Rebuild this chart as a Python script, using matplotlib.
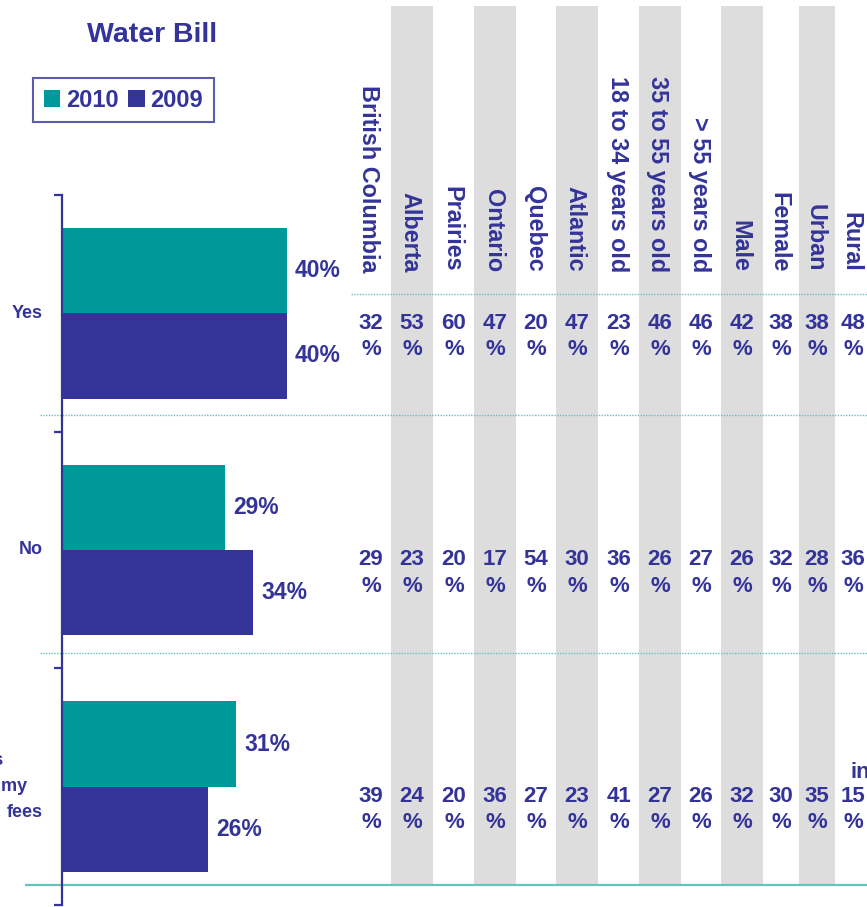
import matplotlib
matplotlib.use("Agg")
import matplotlib.pyplot as plt
import matplotlib.transforms as mtransforms
import numpy as np

plt.rcParams['font.family'] = ['Liberation Sans', 'DejaVu Sans']

# data
years = ["2010", "2009"]
categories = ["Yes", "No", "It's included in my fees"]
share_2010 = [40, 29, 31]
share_2009 = [40, 34, 26]

groups = ["British Columbia", "Alberta", "Prairies", "Ontario", "Quebec", "Atlantic",
          "18 to 34 years old", "35 to 55 years old", "> 55 years old",
          "Male", "Female", "Urban", "Rural"]
yes_by_group = [32, 53, 60, 47, 20, 47, 23, 46, 46, 42, 38, 38, 48]
no_by_group = [29, 23, 20, 17, 54, 30, 36, 26, 27, 26, 32, 28, 36]
incl_by_group = [39, 24, 20, 36, 27, 23, 41, 27, 26, 32, 30, 35, 15]
table_rows = [yes_by_group, no_by_group, incl_by_group]

# colours
teal = "#009999"
navy = "#333399"
band_gray = "#dddddd"
line_teal = "#66c2bd"

# layout (pixels on a 867x907 canvas)
W, H = 867, 907
col_x = [371, 412, 454, 495, 536, 577, 619, 660, 701, 742, 781, 817, 853]
col_w = [42, 42, 42, 42, 42, 42, 42, 42, 42, 42, 42, 36, 42]

fig = plt.figure(figsize=(W / 100, H / 100), dpi=100)

# background layer in pixel coordinates
bg = fig.add_axes([0, 0, 1, 1])
bg.set_xlim(0, W)
bg.set_ylim(H, 0)
bg.axis('off')

# gray bands on every second column
for i in range(1, len(groups), 2):
    bg.bar(col_x[i], 879, bottom=6, width=col_w[i], color=band_gray, zorder=0)

# separators
bg.hlines(294, 351, W, colors=line_teal, linestyles=(0, (1, 1)), lw=1, zorder=1)
bg.hlines([415, 653], 40, W, colors=line_teal, linestyles=(0, (1, 1)), lw=1, zorder=1)
bg.hlines(885, 25, W, colors=line_teal, lw=1.6, zorder=1)

# title
bg.text(152, 35, "Water Bill", ha='center', va='center', fontsize=20.5,
        fontweight='bold', color=navy)

# column headers (rotated, reading downward)
for x, name in zip(col_x, groups):
    bg.text(x - 2, 272, name, rotation=270, ha='center', va='bottom',
            fontsize=16.8, fontweight='bold', color=navy)

# bar chart
ax = fig.add_axes([62 / W, 2 / H, (354 - 62) / W, 710 / H])
ax.patch.set_visible(False)
y = np.arange(len(categories))
h = 0.36
b2010 = ax.barh(y - h / 2, share_2010, height=h, color=teal, label=years[0])
b2009 = ax.barh(y + h / 2, share_2009, height=h, color=navy, label=years[1])
ax.set_xlim(0, 52)
ax.set_ylim(len(categories) - 0.5, -0.5)

for bars, vals in [(b2010, share_2010), (b2009, share_2009)]:
    ax.bar_label(bars, labels=[f"{v}%" for v in vals], padding=6,
                 fontsize=16.5, fontweight='bold', color=navy)

for side in ['top', 'right', 'bottom']:
    ax.spines[side].set_visible(False)
ax.spines['left'].set_color(navy)
ax.spines['left'].set_linewidth(1.6)
ax.set_xticks([])
ax.set_yticks(np.arange(len(categories) + 1) - 0.5)
ax.tick_params(axis='y', direction='out', length=5.5, width=1.6, color=navy,
               labelleft=False)

# category labels and table values, x in pixels, y in category units
trans = mtransforms.blended_transform_factory(bg.transData, ax.transData)
ax.text(43, 0, categories[0], transform=trans, ha='right', va='center',
        fontsize=13, fontweight='bold', color=navy, clip_on=False)
ax.text(43, 1, categories[1], transform=trans, ha='right', va='center',
        fontsize=13, fontweight='bold', color=navy, clip_on=False)
third_lines = ["It's", "included in my", "fees"]
for k, (line, xr) in enumerate(zip(third_lines, [4, 27, 43])):
    ax.text(xr, 2 + (k - 1) * 0.11, line, transform=trans, ha='right',
            va='center', fontsize=13, fontweight='bold', color=navy,
            clip_on=False)

for r, row in enumerate(table_rows):
    for x, v in zip(col_x, row):
        ax.text(x, r + 0.097, f"{v}\n%", transform=trans, ha='center',
                va='center', fontsize=16, fontweight='bold', color=navy,
                linespacing=1.32, clip_on=False)

# stray label fragment at the right edge
bg.text(851, 773, "in", ha='left', va='center', fontsize=16,
        fontweight='bold', color=navy)

leg = fig.legend(handles=[b2010, b2009], labels=years, loc='upper left',
                 bbox_to_anchor=(33 / W, 1 - 78 / H), ncol=2, frameon=True,
                 fancybox=False, edgecolor=navy, handlelength=0.7,
                 handleheight=0.7, handletextpad=0.25, columnspacing=0.4,
                 borderpad=0.45, borderaxespad=0,
                 prop={'weight': 'bold', 'size': 17}, labelcolor=navy)
leg.get_frame().set_linewidth(1.5)

fig.savefig("out.png", dpi=100)
